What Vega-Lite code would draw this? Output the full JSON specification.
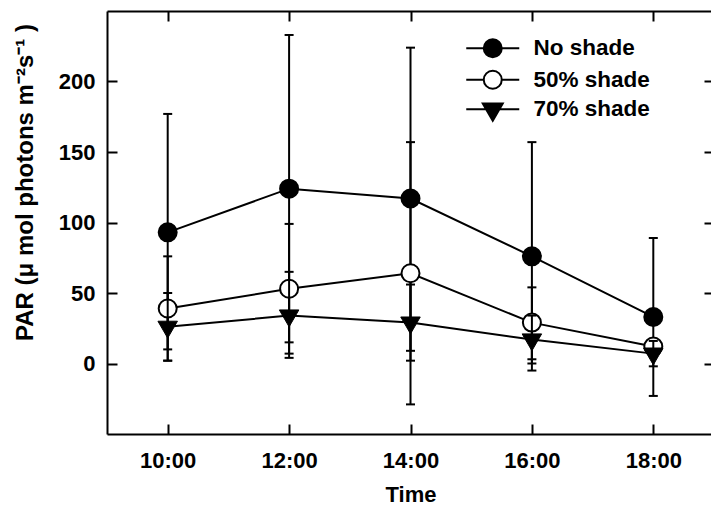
{
  "$schema": "https://vega.github.io/schema/vega-lite/v6.json",
  "autosize": {"type": "none"},
  "padding": {"left": 107, "top": 11, "right": 0, "bottom": 72},
  "width": 607,
  "height": 423,
  "config": {
    "font": "Liberation Sans",
    "view": {"stroke": null},
    "axis": {
      "domainColor": "black", "domainWidth": 2, "tickColor": "black", "tickWidth": 2,
      "grid": false, "labelFont": "Liberation Sans", "labelFontWeight": "bold", "labelFontSize": 22,
      "labelColor": "black", "titleFont": "Liberation Sans", "titleFontWeight": "bold", "titleFontSize": 22,
      "titleColor": "black"
    }
  },
  "data": {
    "values": [
      {"t": 10, "series": "No shade", "mean": 93, "lo": 10, "hi": 177},
      {"t": 12, "series": "No shade", "mean": 124, "lo": 15, "hi": 233},
      {"t": 14, "series": "No shade", "mean": 117, "lo": 9, "hi": 224},
      {"t": 16, "series": "No shade", "mean": 76, "lo": -5, "hi": 157},
      {"t": 18, "series": "No shade", "mean": 33, "lo": -23, "hi": 89},
      {"t": 10, "series": "50% shade", "mean": 39, "lo": 2, "hi": 76},
      {"t": 12, "series": "50% shade", "mean": 53, "lo": 7, "hi": 99},
      {"t": 14, "series": "50% shade", "mean": 64, "lo": -29, "hi": 157},
      {"t": 16, "series": "50% shade", "mean": 29, "lo": 3, "hi": 54},
      {"t": 18, "series": "50% shade", "mean": 12, "lo": 8, "hi": 16},
      {"t": 10, "series": "70% shade", "mean": 26, "lo": 2, "hi": 50},
      {"t": 12, "series": "70% shade", "mean": 34, "lo": 4, "hi": 65},
      {"t": 14, "series": "70% shade", "mean": 29, "lo": 2, "hi": 56},
      {"t": 16, "series": "70% shade", "mean": 17, "lo": 0, "hi": 34},
      {"t": 18, "series": "70% shade", "mean": 7, "lo": -2, "hi": 16}
    ]
  },
  "resolve": {"axis": {"x": "independent", "y": "independent"}},
  "layer": [
    {
      "transform": [{"filter": "datum.series != '70% shade'"}],
      "mark": {"type": "rule", "color": "black", "strokeWidth": 2},
      "encoding": {
        "x": {"field": "t", "type": "quantitative", "scale": {"domain": [9, 19], "nice": false, "zero": false},
          "axis": {"orient": "bottom", "values": [10, 12, 14, 16, 18], "labelExpr": "datum.value + ':00'",
            "tickSize": -10, "labelPadding": 26, "title": "Time", "titleBaseline": "alphabetic", "titleY": 67}},
        "y": {"field": "lo", "type": "quantitative", "scale": {"domain": [-50, 250], "nice": false, "zero": false},
          "axis": {"orient": "left", "values": [0, 50, 100, 150, 200], "tickSize": -10, "labelPadding": 22,
            "title": "PAR (μ mol photons m⁻²s⁻¹ )", "titleFontSize": 24, "titleAnchor": "middle", "titleY": 171, "titleX": -70, "titleBaseline": "bottom"}},
        "y2": {"field": "hi"}
      }
    },
    {
      "transform": [{"filter": "datum.series != '70% shade'"}],
      "mark": {"type": "tick", "orient": "horizontal", "color": "black", "size": 9, "thickness": 2, "opacity": 1},
      "encoding": {
        "x": {"field": "t", "type": "quantitative", "axis": null},
        "y": {"field": "hi", "type": "quantitative", "axis": null}
      }
    },
    {
      "transform": [{"filter": "datum.series != '70% shade'"}],
      "mark": {"type": "tick", "orient": "horizontal", "color": "black", "size": 9, "thickness": 2, "opacity": 1},
      "encoding": {
        "x": {"field": "t", "type": "quantitative", "axis": null},
        "y": {"field": "lo", "type": "quantitative", "axis": null}
      }
    },
    {
      "transform": [{"filter": "datum.series != '70% shade'"}],
      "mark": {"type": "line", "color": "black", "strokeWidth": 2},
      "encoding": {
        "x": {"field": "t", "type": "quantitative", "axis": null},
        "y": {"field": "mean", "type": "quantitative", "axis": null},
        "detail": {"field": "series"}
      }
    },
    {
      "transform": [{"filter": "datum.series == 'No shade'"}],
      "mark": {"type": "point", "shape": "circle", "filled": true, "fill": "black", "stroke": "black", "strokeWidth": 2, "size": 324, "opacity": 1},
      "encoding": {
        "x": {"field": "t", "type": "quantitative", "axis": null},
        "y": {"field": "mean", "type": "quantitative", "axis": null}
      }
    },
    {
      "transform": [{"filter": "datum.series == '50% shade'"}],
      "mark": {"type": "point", "shape": "circle", "filled": true, "fill": "white", "stroke": "black", "strokeWidth": 2, "size": 324, "opacity": 1},
      "encoding": {
        "x": {"field": "t", "type": "quantitative", "axis": null},
        "y": {"field": "mean", "type": "quantitative", "axis": null}
      }
    },
    {
      "transform": [{"filter": "datum.series == '70% shade'"}],
      "mark": {"type": "rule", "color": "black", "strokeWidth": 2},
      "encoding": {
        "x": {"field": "t", "type": "quantitative", "axis": null},
        "y": {"field": "lo", "type": "quantitative", "axis": null},
        "y2": {"field": "hi"}
      }
    },
    {
      "transform": [{"filter": "datum.series == '70% shade'"}],
      "mark": {"type": "tick", "orient": "horizontal", "color": "black", "size": 9, "thickness": 2, "opacity": 1},
      "encoding": {
        "x": {"field": "t", "type": "quantitative", "axis": null},
        "y": {"field": "hi", "type": "quantitative", "axis": null}
      }
    },
    {
      "transform": [{"filter": "datum.series == '70% shade'"}],
      "mark": {"type": "tick", "orient": "horizontal", "color": "black", "size": 9, "thickness": 2, "opacity": 1},
      "encoding": {
        "x": {"field": "t", "type": "quantitative", "axis": null},
        "y": {"field": "lo", "type": "quantitative", "axis": null}
      }
    },
    {
      "transform": [{"filter": "datum.series == '70% shade'"}],
      "mark": {"type": "line", "color": "black", "strokeWidth": 2},
      "encoding": {
        "x": {"field": "t", "type": "quantitative", "axis": null},
        "y": {"field": "mean", "type": "quantitative", "axis": null}
      }
    },
    {
      "transform": [{"filter": "datum.series == '70% shade'"}],
      "mark": {"type": "point", "shape": "M-1,-0.577L1,-0.577L0,1.155Z", "filled": true, "fill": "black", "stroke": "black", "strokeWidth": 1, "size": 380, "opacity": 1},
      "encoding": {
        "x": {"field": "t", "type": "quantitative", "axis": null},
        "y": {"field": "mean", "type": "quantitative", "axis": null}
      }
    },
    {
      "transform": [{"filter": "false"}],
      "mark": {"type": "point", "filled": true, "strokeWidth": 2, "size": 400, "opacity": 1},
      "encoding": {
        "x": {"field": "t", "type": "quantitative",
          "axis": {"orient": "top", "values": [10, 12, 14, 16, 18], "tickSize": -10, "labels": false, "title": null}},
        "y": {"field": "mean", "type": "quantitative",
          "axis": {"orient": "right", "values": [0, 50, 100, 150, 200], "tickSize": -10, "labels": false, "title": null}},
        "shape": {"field": "series", "type": "nominal",
          "scale": {"domain": ["No shade", "50% shade", "70% shade"],
            "range": ["M-2.65,0L-0.9,0M0.9,0L2.65,0M-0.9,0A0.9,0.9,0,1,0,0.9,0A0.9,0.9,0,1,0,-0.9,0Z",
                      "M-2.65,0L-0.9,0M0.9,0L2.65,0M-0.9,0A0.9,0.9,0,1,0,0.9,0A0.9,0.9,0,1,0,-0.9,0Z",
                      "M-2.65,0L2.65,0M-1,-0.58L1,-0.58L0,1.15Z"]},
          "legend": {"orient": "none", "legendX": 374.5, "legendY": 26, "title": null, "padding": 0, "rowPadding": 4.5,
            "symbolSize": 400, "symbolStrokeWidth": 2, "symbolOpacity": 1,
            "labelOffset": 29.5, "labelFont": "Liberation Sans", "labelFontWeight": "bold", "labelFontSize": 22.5, "labelColor": "black", "labelLimit": 300}},
        "fill": {"field": "series", "type": "nominal",
          "scale": {"domain": ["No shade", "50% shade", "70% shade"], "range": ["black", "white", "black"]},
          "legend": {"orient": "none", "legendX": 374.5, "legendY": 26, "title": null, "padding": 0, "rowPadding": 4.5,
            "symbolSize": 400, "symbolStrokeWidth": 2, "symbolOpacity": 1,
            "labelOffset": 29.5, "labelFont": "Liberation Sans", "labelFontWeight": "bold", "labelFontSize": 22.5, "labelColor": "black", "labelLimit": 300}},
        "stroke": {"field": "series", "type": "nominal",
          "scale": {"domain": ["No shade", "50% shade", "70% shade"], "range": ["black", "black", "black"]},
          "legend": {"orient": "none", "legendX": 374.5, "legendY": 26, "title": null, "padding": 0, "rowPadding": 4.5,
            "symbolSize": 400, "symbolStrokeWidth": 2, "symbolOpacity": 1,
            "labelOffset": 29.5, "labelFont": "Liberation Sans", "labelFontWeight": "bold", "labelFontSize": 22.5, "labelColor": "black", "labelLimit": 300}}
      }
    }
  ]
}
